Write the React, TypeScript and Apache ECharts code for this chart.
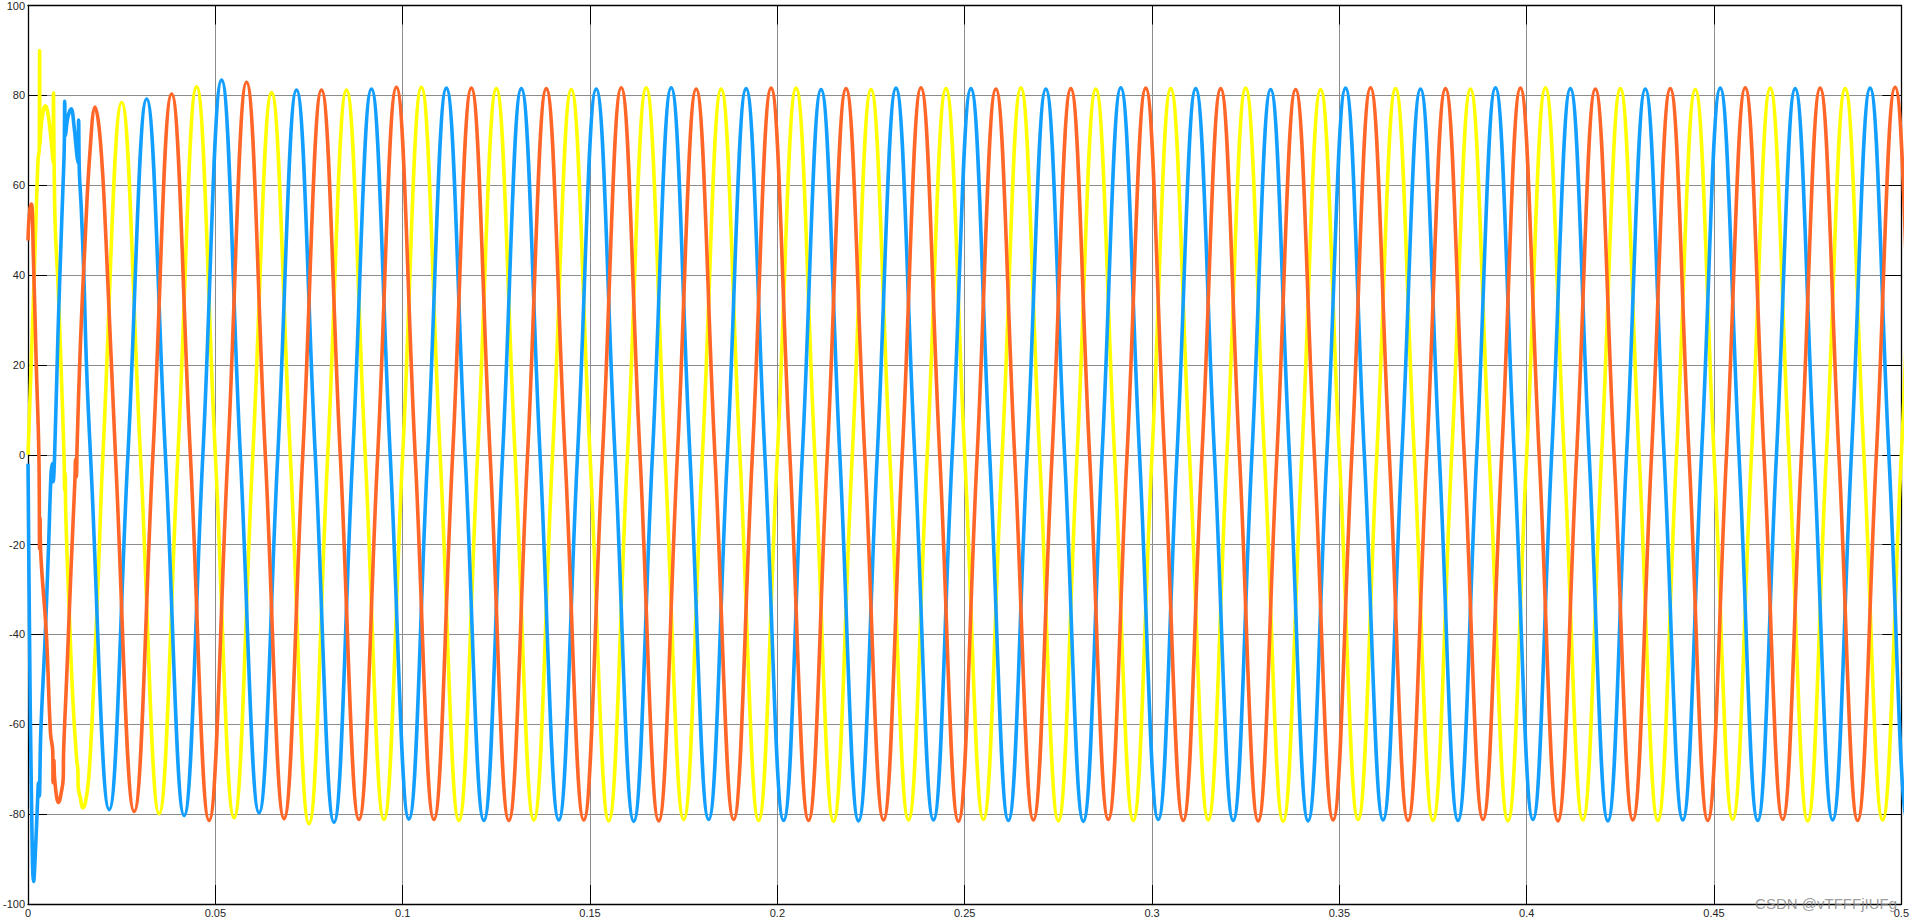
import React, { useEffect, useRef } from "react";
import * as echarts from "echarts";

// ---- Data (time in s, value) ----
// Start-up transient of each phase (explicit points)
const yellowHead: [number, number][] = [
  [0, 0], [0.0005, 12], [0.001, 24], [0.0015, 36], [0.0021, 52], [0.0027, 66], [0.003, 68], [0.0031, 90],
  [0.0032, 69], [0.0036, 74], [0.0042, 77], [0.0047, 77.7], [0.0053, 76], [0.0058, 73], [0.0064, 68],
  [0.0067, 65], [0.0068, 80.5], [0.007, 62], [0.0073, 50], [0.008, 38], [0.0088, 20], [0.0096, 0],
  [0.0098, -8], [0.0099, -4], [0.0101, -14], [0.011, -35], [0.012, -55], [0.013, -68], [0.0133, -70],
  [0.0134, -74], [0.014, -76.5], [0.0146, -78.6], [0.0153, -77.5], [0.0162, -72], [0.0175, -52], [0.0187, -28],
];
const blueHead: [number, number][] = [
  [0, -2], [0.0004, -40], [0.0009, -75], [0.0015, -95], [0.0021, -86], [0.0026, -76], [0.0028, -73],
  [0.003, -76], [0.0034, -62], [0.0046, -40], [0.0055, -20], [0.0061, -5], [0.0064, -2], [0.0067, -6],
  [0.0071, 0], [0.008, 27], [0.009, 52], [0.0096, 66], [0.0097, 70], [0.0098, 78.7], [0.01, 71],
  [0.0106, 75], [0.0115, 77], [0.0123, 73], [0.013, 67], [0.0133, 65], [0.0135, 74.5], [0.0137, 63],
  [0.0142, 55], [0.0149, 40], [0.0156, 20],
];
const orangeHead: [number, number][] = [
  [0, 47.7], [0.0004, 54], [0.0009, 55.8], [0.0014, 45], [0.0022, 20], [0.0029, 0], [0.0031, -21],
  [0.0032, -14], [0.0034, -22], [0.0049, -40], [0.006, -62], [0.0066, -66], [0.0067, -73], [0.0069, -68],
  [0.0071, -72], [0.0077, -76.5], [0.0082, -77.4], [0.0088, -75.5], [0.0094, -72], [0.0095, -66],
  [0.0103, -50], [0.0115, -25], [0.0125, -6], [0.0127, -1], [0.0129, -5], [0.0131, 2], [0.014, 25],
  [0.0152, 47], [0.0165, 67], [0.0179, 77.4], [0.0193, 70], [0.0208, 48],
];

// Steady state: successive extremes (every half period, 0.01 s), zero crossings in between
const HALF_PERIOD = 0.01;
const yellowFirstExtreme = 0.025;
const yellowExtremes = [
  78.4, -79.9, 81.9, -80.8, 80.6, -82.1, 81.2, -81.2, 81.8, -81.4, 81.5, -81.3, 81.3, -81.5, 81.7, -81.2,
  81.4, -81.4, 81.6, -81.6, 81.3, -81.3, 81.5, -81.2, 81.7, -81.5, 81.4, -81.4, 81.5, -81.3, 81.6, -81.6,
  81.3, -81.2, 81.5, -81.4, 81.4, -81.5, 81.7, -81.3, 81.5, -81.4, 81.3, -81.2, 81.6, -81.5, 81.5, -81.3, 81.5,
];
const blueFirstExtreme = 0.021667;
const blueExtremes = [
  -79.0, 79.2, -80.3, 83.4, -79.7, 81.2, -81.8, 81.4, -81.1, 81.6, -81.4, 81.5, -81.3, 81.4, -81.6, 81.7,
  -81.2, 81.5, -81.4, 81.3, -81.5, 81.6, -81.3, 81.5, -81.4, 81.4, -81.6, 81.7, -81.2, 81.5, -81.4, 81.3,
  -81.5, 81.6, -81.3, 81.4, -81.4, 81.7, -81.2, 81.5, -81.5, 81.4, -81.3, 81.6, -81.4, 81.5, -81.3, 81.6, -81.4,
];
const orangeFirstExtreme = 0.028333;
const orangeExtremes = [
  -79.4, 80.3, -81.4, 82.9, -81.0, 81.2, -81.2, 81.8, -81.2, 81.6, -81.4, 81.5, -81.3, 81.7, -81.5, 81.4,
  -81.2, 81.6, -81.4, 81.5, -81.3, 81.7, -81.6, 81.4, -81.3, 81.5, -81.2, 81.6, -81.4, 81.5, -81.5, 81.3,
  -81.3, 81.7, -81.4, 81.5, -81.2, 81.6, -81.5, 81.4, -81.3, 81.5, -81.4, 81.7, -81.2, 81.6, -81.4, 81.8, -81.3,
];

const WATERMARK = "CSDN @vTFFFjIUFg";

function buildSeries(head: [number, number][], firstExtreme: number, extremes: number[]) {
  const pts: [number, number][] = head.slice();
  const q = HALF_PERIOD / 2;
  extremes.forEach((v, j) => {
    const t = firstExtreme + j * HALF_PERIOD;
    pts.push([+(t - q).toFixed(6), 0]);
    pts.push([+t.toFixed(6), v]);
  });
  pts.push([+(firstExtreme + (extremes.length - 1) * HALF_PERIOD + q).toFixed(6), 0]);
  return pts;
}

const FONT = '"Liberation Sans", Arial, Helvetica, sans-serif';

export default function App() {
  const ref = useRef<HTMLDivElement>(null);
  useEffect(() => {
    const chart = echarts.init(ref.current!, null, { renderer: "svg" });
    const tickStyle = { inside: true, length: 19, lineStyle: { color: "#000", width: 1 } };
    const lineAxis = { show: true, onZero: false, lineStyle: { color: "#000", width: 1.3 } };
    const label = { fontSize: 11, color: "#262626", fontFamily: FONT, margin: 3 };
    const grid = { show: true, lineStyle: { color: "#8c8c8c", width: 1 } };
    const mk = (name: string, color: string, data: [number, number][]) => ({
      name,
      type: "line",
      data,
      smooth: 0.42,
      showSymbol: false,
      symbol: "none",
      clip: true,
      lineStyle: { color, width: 3.6 },
      itemStyle: { color },
      emphasis: { disabled: true },
    });
    chart.setOption({
      animation: false,
      backgroundColor: "#ffffff",
      grid: { left: 23, right: 10, top: 4, bottom: 20, containLabel: false },
      xAxis: [
        {
          type: "value", min: 0, max: 0.5, interval: 0.05, position: "bottom",
          axisLine: lineAxis, axisTick: tickStyle, axisLabel: label, splitLine: grid,
        },
        {
          type: "value", min: 0, max: 0.5, interval: 0.05, position: "top",
          axisLine: lineAxis, axisTick: tickStyle, axisLabel: { show: false }, splitLine: { show: false },
        },
      ],
      yAxis: [
        {
          type: "value", min: -100, max: 100, interval: 20, position: "left",
          axisLine: lineAxis, axisTick: tickStyle, axisLabel: label, splitLine: grid,
        },
        {
          type: "value", min: -100, max: 100, interval: 20, position: "right",
          axisLine: lineAxis, axisTick: tickStyle, axisLabel: { show: false }, splitLine: { show: false },
        },
      ],
      series: [
        mk("A", "#FFFF00", buildSeries(yellowHead, yellowFirstExtreme, yellowExtremes)),
        mk("B", "#139FFF", buildSeries(blueHead, blueFirstExtreme, blueExtremes)),
        mk("C", "#FF6628", buildSeries(orangeHead, orangeFirstExtreme, orangeExtremes)),
      ],
      graphic: [
        {
          type: "text",
          right: 15,
          top: 896,
          z: 100,
          style: { text: WATERMARK, fill: "rgba(130,130,130,0.8)", font: `15px ${FONT}` },
        },
      ],
    });
    return () => chart.dispose();
  }, []);
  return (
    <div
      ref={ref}
      style={{ position: "fixed", left: 0, top: 0, width: 1912, height: 924, background: "#fff" }}
    />
  );
}
